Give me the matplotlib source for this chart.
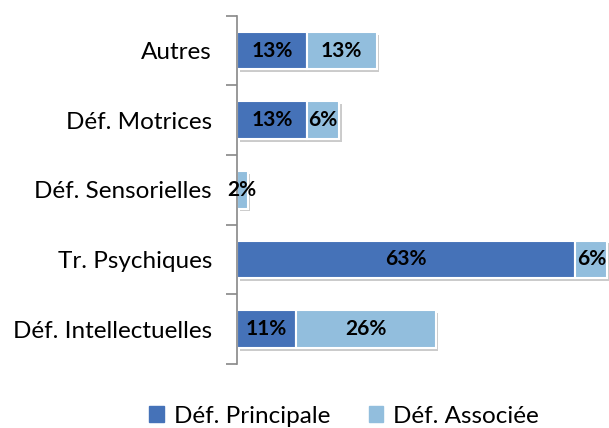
import matplotlib.pyplot as plt
import matplotlib.patheffects as pe
from matplotlib.patches import Patch
import numpy as np

categories = ["Autres", "Déf. Motrices", "Déf. Sensorielles", "Tr. Psychiques", "Déf. Intellectuelles"]
principale = [13, 13, 0, 63, 11]
associee = [13, 6, 2, 6, 26]

plt.rcParams['font.family'] = ['Lato', 'DejaVu Sans']

c_dark = "#4572B8"
c_light = "#92BEDD"

fig = plt.figure(figsize=(6.09, 4.28), dpi=100)
ax = fig.add_axes([0.389, 0.150, 0.611, 0.813])

y = np.arange(len(categories))
shadow = [pe.SimplePatchShadow(offset=(2, -2), shadow_rgbFace="#999999", alpha=0.5), pe.Normal()]

ax.barh(y, principale, height=0.54, color=c_dark, edgecolor="white", linewidth=1.5,
        path_effects=shadow)
ax.barh(y, associee, left=principale, height=0.54, color=c_light, edgecolor="white",
        linewidth=1.5, path_effects=shadow)

for i in range(len(categories)):
    if principale[i] > 0:
        ax.text(principale[i] / 2, y[i], f"{principale[i]}%", ha="center", va="center",
                fontsize=15, fontweight="bold", color="black")
    if associee[i] > 0:
        ax.text(principale[i] + associee[i] / 2, y[i], f"{associee[i]}%", ha="center",
                va="center", fontsize=15, fontweight="bold", color="black", clip_on=False)

ax.set_xlim(0, 69.3)
ax.set_ylim(len(categories) - 0.5, -0.5)
ax.set_yticks(y)
ax.set_yticklabels(categories, fontsize=17.5)
ax.set_yticks(np.arange(-0.5, len(categories)), minor=True)
ax.tick_params(axis="y", which="major", length=0, pad=18)
ax.tick_params(axis="y", which="minor", length=8, color="#888888", width=1.2)
ax.set_xticks([])
for s in ["top", "right", "bottom"]:
    ax.spines[s].set_visible(False)
ax.spines["left"].set_color("#888888")
ax.spines["left"].set_linewidth(1.2)

handles = [Patch(color=c_dark, label="Déf. Principale"), Patch(color=c_light, label="Déf. Associée")]
fig.legend(handles=handles, loc="lower center", bbox_to_anchor=(0.565, -0.048), ncol=2,
           frameon=False, fontsize=17.5, handlelength=0.6, handleheight=0.6,
           columnspacing=1.6, handletextpad=0.4)

fig.savefig("out.png", dpi=100)
